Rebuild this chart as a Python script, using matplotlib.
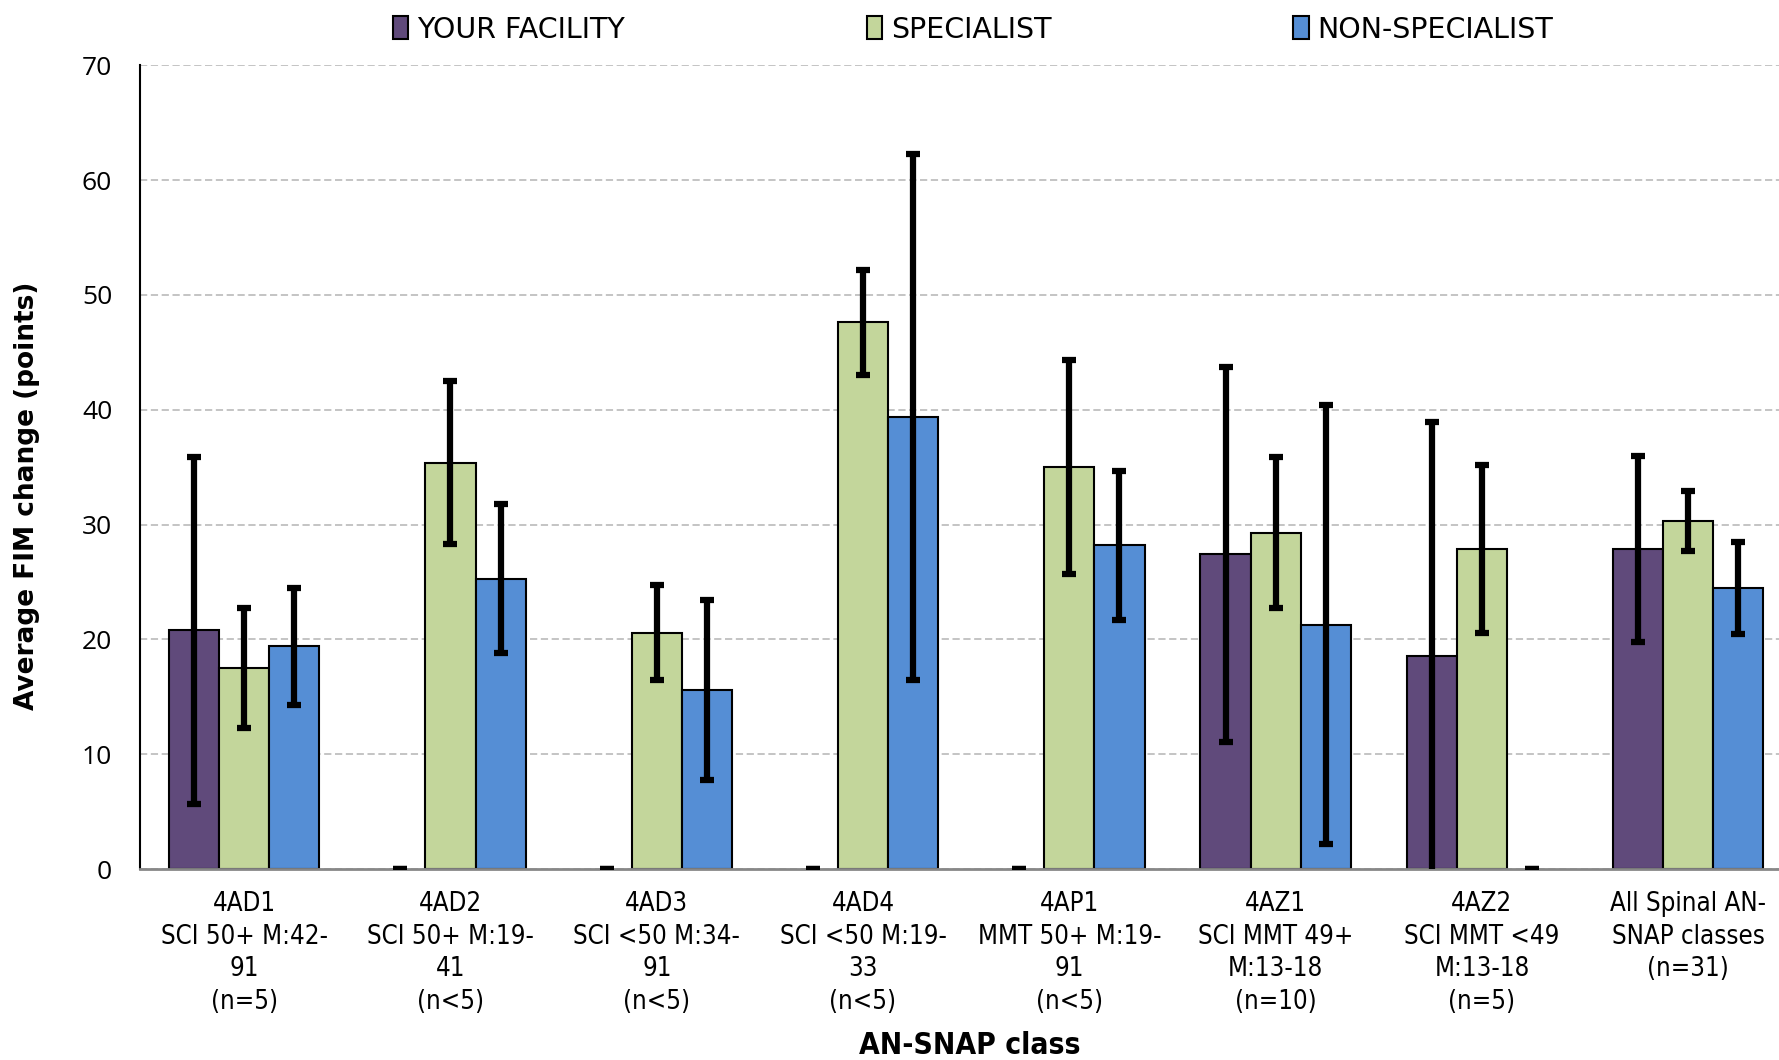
import numpy as np
import matplotlib
matplotlib.use("Agg")
import matplotlib.pyplot as plt
from matplotlib.font_manager import FontProperties

# 数据
categories = ["4AD1\nSCI 50+ M:42-\n91\n(n=5)",
              "4AD2\nSCI 50+ M:19-\n41\n(n<5)",
              "4AD3\nSCI <50 M:34-\n91\n(n<5)",
              "4AD4\nSCI <50 M:19-\n33\n(n<5)",
              "4AP1\nMMT 50+ M:19-\n91\n(n<5)",
              "4AZ1\nSCI MMT 49+\nM:13-18\n(n=10)",
              "4AZ2\nSCI MMT <49\nM:13-18\n(n=5)",
              "All Spinal AN-\nSNAP classes\n(n=31)"]
series_names = ["YOUR FACILITY", "SPECIALIST", "NON-SPECIALIST"]

facility = [20.8, np.nan, np.nan, np.nan, np.nan, 27.4, 18.6, 27.9]
facility_err = [15.1, 0, 0, 0, 0, 16.3, 20.3, 8.1]
specialist = [17.5, 35.4, 20.6, 47.6, 35.0, 29.3, 27.9, 30.3]
specialist_err = [5.2, 7.1, 4.1, 4.6, 9.3, 6.6, 7.3, 2.6]
non_specialist = [19.4, 25.3, 15.6, 39.4, 28.2, 21.3, np.nan, 24.5]
non_specialist_err = [5.1, 6.5, 7.8, 22.9, 6.5, 19.1, 0, 4.0]

colors = ["#604A7B", "#C3D69B", "#558ED5"]

# 窄字体（原图文字偏窄）
cond = FontProperties(family="DejaVu Sans", stretch="condensed", size=18.5)
cond_bold = FontProperties(family="DejaVu Sans", stretch="condensed",
                           weight="bold", size=21.5)
leg_font = FontProperties(family="DejaVu Sans", size=20.5)

fig = plt.figure(figsize=(17.79, 10.60), dpi=100)
ax = fig.add_axes([0.0787, 0.180, 0.9213, 0.7585])

x = np.arange(len(categories))
w = 0.243
series = [(facility, facility_err), (specialist, specialist_err),
          (non_specialist, non_specialist_err)]

for i, (vals, errs) in enumerate(series):
    pos = x + (i - 1) * w
    ax.bar(pos, vals, w, color=colors[i], edgecolor="black", linewidth=1.5,
           label=series_names[i], zorder=2)
    # 缺失值处只画一个0处的短横
    ax.errorbar(pos, np.nan_to_num(vals), yerr=errs, fmt="none",
                ecolor="black", elinewidth=4.5, capsize=5, capthick=4.5,
                zorder=3)

ax.set_ylim(0, 70)
ax.set_xlim(-0.505, 7.44)
ax.set_yticks(range(0, 71, 10))
ax.yaxis.grid(True, linestyle=(0, (4, 2)), color="#BFBFBF", linewidth=1.3, zorder=0)
ax.set_axisbelow(True)

ax.set_xticks(x)
ax.set_xticklabels(categories, fontproperties=cond, linespacing=1.32)
for t in ax.get_yticklabels():
    t.set_family(["Open Sans", "DejaVu Sans"])
    t.set_fontsize(19)
ax.tick_params(axis="both", length=0)
ax.tick_params(axis="x", pad=16)
ax.tick_params(axis="y", pad=20)

for s in ["top", "right"]:
    ax.spines[s].set_visible(False)
ax.spines["left"].set_color("black")
ax.spines["left"].set_linewidth(1.5)
ax.spines["bottom"].set_color("#888888")
ax.spines["bottom"].set_linewidth(2)

ax.set_ylabel("Average FIM change (points)", family="DejaVu Sans",
              fontsize=19, fontweight="bold")
ax.yaxis.set_label_coords(-0.061, 0.464)
ax.set_xlabel("AN-SNAP class", fontproperties=cond_bold, labelpad=12)
ax.xaxis.label.set_x(0.506)

leg = fig.legend(loc="center", bbox_to_anchor=(0.547, 0.972), ncol=3,
                 frameon=False, prop=leg_font, borderpad=0,
                 handlelength=0.55, handleheight=0.85, handletextpad=0.3,
                 columnspacing=8.5)

fig.savefig("out.png", dpi=100)
